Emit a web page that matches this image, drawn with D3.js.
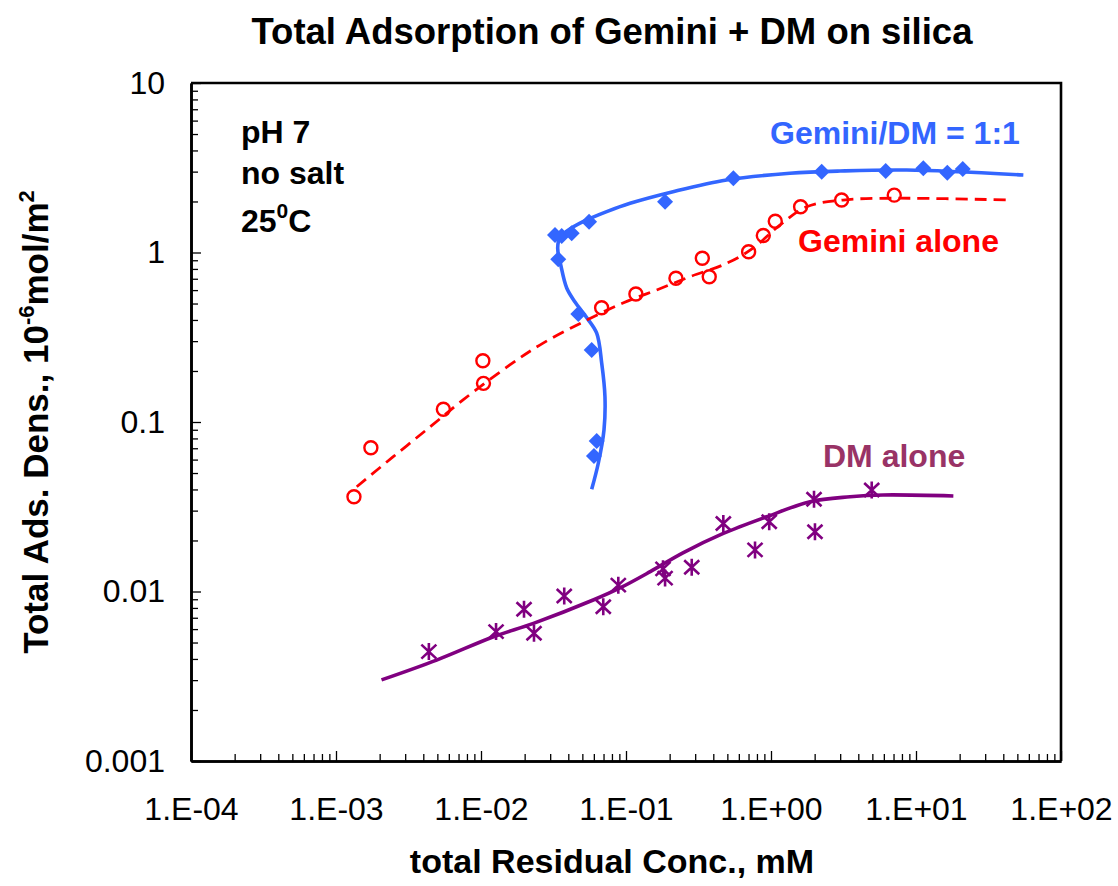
<!DOCTYPE html>
<html>
<head>
<meta charset="utf-8">
<script src="https://cdn.jsdelivr.net/npm/d3@7"></script>
<style>
  html, body { margin: 0; padding: 0; background: #fff; }
  svg { display: block; font-family: Arial, "Liberation Sans", sans-serif; }
</style>
</head>
<body>
<svg id="chart" width="1118" height="886"></svg>
<script>
// ---- data: residual concentration (mM) vs adsorption density (1e-6 mol/m2) ----
const geminiDmX = [0.0324, 0.0360, 0.0422, 0.0556, 0.0341, 0.0469, 0.058, 0.0628, 0.0601, 0.186, 0.550, 2.237, 6.18, 11.23, 16.44, 21.0];
const geminiDmY = [1.27, 1.25, 1.30, 1.52, 0.912, 0.434, 0.266, 0.0773, 0.063, 1.995, 2.74, 2.996, 3.025, 3.14, 2.955, 3.11];

const geminiX = [0.00133, 0.00174, 0.0055, 0.0104, 0.0103, 0.0679, 0.117, 0.221, 0.375, 0.336, 0.701, 0.885, 1.07, 1.6, 3.07, 7.08];
const geminiY = [0.0362, 0.0705, 0.119, 0.169, 0.230, 0.472, 0.569, 0.705, 0.72, 0.924, 1.01, 1.26, 1.53, 1.86, 2.04, 2.18];

const dmX = [0.00437, 0.0127, 0.0198, 0.0232, 0.0375, 0.0697, 0.0885, 0.180, 0.186, 0.284, 0.469, 0.776, 0.972, 1.98, 2.01, 4.95];
const dmY = [0.00442, 0.0058, 0.00785, 0.00567, 0.0094, 0.00813, 0.0109, 0.0136, 0.012, 0.0139, 0.0252, 0.0176, 0.0258, 0.035, 0.0225, 0.0397];

// fitted trend curves
const geminiDmFitX = [0.058, 0.0644, 0.0705, 0.0716, 0.068, 0.0628, 0.0538, 0.0445, 0.039, 0.0356, 0.0338, 0.0351, 0.0392, 0.0505, 0.0736, 0.1067, 0.211, 0.494, 1.35, 2.99, 8.63, 55];
const geminiDmFitY = [0.0401, 0.0571, 0.0897, 0.141, 0.222, 0.334, 0.411, 0.510, 0.617, 0.833, 1.063, 1.234, 1.339, 1.519, 1.741, 1.951, 2.284, 2.678, 2.933, 3.025, 3.067, 2.866];

const geminiFitX = [0.00139, 0.00247, 0.00445, 0.00752, 0.0158, 0.0268, 0.0505, 0.0953, 0.163, 0.276, 0.494, 0.752, 1.15, 1.76, 3.14, 7.0, 43.1];
const geminiFitY = [0.0415, 0.0622, 0.0935, 0.135, 0.217, 0.292, 0.389, 0.504, 0.601, 0.72, 0.863, 1.06, 1.45, 1.86, 2.04, 2.09, 2.04];

const dmFitX = [0.00206, 0.00494, 0.0122, 0.023, 0.0594, 0.091, 0.147, 0.247, 0.469, 0.933, 1.86, 3.51, 5.92, 18.1];
const dmFitY = [0.00301, 0.00394, 0.00541, 0.00649, 0.00891, 0.0105, 0.0131, 0.0169, 0.022, 0.0276, 0.0339, 0.0362, 0.0371, 0.0366];

// axis ticks
const xTickValues = [1e-4, 1e-3, 1e-2, 1e-1, 1, 10, 100];
const xTickLabels = ["1.E-04", "1.E-03", "1.E-02", "1.E-01", "1.E+00", "1.E+01", "1.E+02"];
const yTickValues = [0.001, 0.01, 0.1, 1, 10];
const yTickLabels = ["0.001", "0.01", "0.1", "1", "10"];

// ---- layout ----
const margin = { left: 191, top: 83, right: 57, bottom: 125 };
const W = 1118, H = 886;
const innerW = W - margin.left - margin.right;
const innerH = H - margin.top - margin.bottom;

const BLUE = "#3366ff", RED = "#ff0000", PURPLE = "#800080", DMTEXT = "#993366";

const svg = d3.select("#chart");
const g = svg.append("g").attr("transform", `translate(${margin.left},${margin.top})`);

const x = d3.scaleLog().domain([1e-4, 100]).range([0, innerW]);
const y = d3.scaleLog().domain([0.001, 10]).range([innerH, 0]);

// minor tick positions: 2..9 within each decade
function minorTicks(lo, hi) {
  const out = [];
  for (let e = Math.log10(lo); e < Math.log10(hi); e++) {
    for (let k = 2; k <= 9; k++) out.push(k * Math.pow(10, e));
  }
  return out;
}

// ---- axes ----
const xMinor = g.append("g").attr("transform", `translate(0,${innerH})`)
  .call(d3.axisBottom(x).tickValues(minorTicks(1e-4, 100)).tickSizeInner(-7).tickSizeOuter(0).tickFormat(""));
const xMajor = g.append("g").attr("transform", `translate(0,${innerH})`)
  .call(d3.axisBottom(x).tickValues(xTickValues).tickSizeInner(-10).tickSizeOuter(0).tickPadding(36)
    .tickFormat((d, i) => xTickLabels[i]));

const yMinor = g.append("g")
  .call(d3.axisLeft(y).tickValues(minorTicks(0.001, 10)).tickSizeInner(-7).tickSizeOuter(0).tickFormat(""));
const yMajor = g.append("g")
  .call(d3.axisLeft(y).tickValues(yTickValues).tickSizeInner(-10).tickSizeOuter(0).tickPadding(26)
    .tickFormat((d, i) => yTickLabels[i]));

[xMinor, xMajor, yMinor, yMajor].forEach(a => {
  a.select(".domain").attr("stroke", "#000").attr("stroke-width", 2.6);
  a.selectAll(".tick line").attr("stroke", "#000").attr("stroke-width", 1.3);
  a.selectAll(".tick text").attr("fill", "#000").style("font-size", "32px")
    .style("font-family", 'Arial, "Liberation Sans", sans-serif');
});

// frame: top and right edges
g.append("path")
  .attr("d", `M0,0H${innerW}V${innerH}`)
  .attr("fill", "none").attr("stroke", "#000").attr("stroke-width", 2.6);

// ---- curves ----
const line = d3.line().x(d => x(d[0])).y(d => y(d[1])).curve(d3.curveCatmullRom.alpha(0.5));
const zip = (a, b) => a.map((v, i) => [v, b[i]]);

g.append("path").datum(zip(geminiDmFitX, geminiDmFitY))
  .attr("d", line).attr("fill", "none").attr("stroke", BLUE).attr("stroke-width", 3.6);

g.append("path").datum(zip(dmFitX, dmFitY))
  .attr("d", line).attr("fill", "none").attr("stroke", PURPLE).attr("stroke-width", 3.6);

g.append("path").datum(zip(geminiFitX, geminiFitY))
  .attr("d", line).attr("fill", "none").attr("stroke", RED).attr("stroke-width", 2.8)
  .attr("stroke-dasharray", "12,7");

// ---- markers ----
const diamond = s => `M0,${-s}L${s},0L0,${s}L${-s},0Z`;
g.selectAll(".gdm").data(zip(geminiDmX, geminiDmY)).join("path")
  .attr("class", "gdm")
  .attr("transform", d => `translate(${x(d[0])},${y(d[1])})`)
  .attr("d", diamond(8)).attr("fill", BLUE);

g.selectAll(".gem").data(zip(geminiX, geminiY)).join("circle")
  .attr("class", "gem")
  .attr("cx", d => x(d[0])).attr("cy", d => y(d[1])).attr("r", 6.5)
  .attr("fill", "none").attr("stroke", RED).attr("stroke-width", 2.4);

const asterisk = "M-7.5,-7L7.5,7M-7.5,7L7.5,-7M0,-8.5L0,8.5";
g.selectAll(".dm").data(zip(dmX, dmY)).join("path")
  .attr("class", "dm")
  .attr("transform", d => `translate(${x(d[0])},${y(d[1])})`)
  .attr("d", asterisk).attr("fill", "none").attr("stroke", PURPLE).attr("stroke-width", 2.6);

// ---- text ----
const bold = sel => sel.attr("font-weight", "bold");

bold(svg.append("text")).attr("x", 612).attr("y", 44).attr("text-anchor", "middle")
  .attr("font-size", 36.5).attr("fill", "#000").text("Total Adsorption of Gemini + DM on silica");

bold(svg.append("text")).attr("x", 612).attr("y", 873).attr("text-anchor", "middle")
  .attr("font-size", 34).attr("fill", "#000").text("total Residual Conc., mM");

const yl = bold(svg.append("text")).attr("transform", `translate(48,${margin.top + innerH / 2}) rotate(-90)`)
  .attr("text-anchor", "middle").attr("font-size", 35).attr("fill", "#000");
yl.append("tspan").text("Total Ads. Dens., 10");
yl.append("tspan").attr("dy", -14).attr("font-size", 22).text("-6");
yl.append("tspan").attr("dy", 14).text("mol/m");
yl.append("tspan").attr("dy", -14).attr("font-size", 22).text("2");

// conditions
const cond = bold(svg.append("text")).attr("font-size", 32).attr("fill", "#000");
cond.append("tspan").attr("x", 241).attr("y", 143).text("pH 7");
cond.append("tspan").attr("x", 241).attr("y", 184).text("no salt");
cond.append("tspan").attr("x", 241).attr("y", 232).text("25");
cond.append("tspan").attr("dy", -14).attr("font-size", 21).text("0");
cond.append("tspan").attr("dy", 14).text("C");

// series labels
bold(svg.append("text")).attr("x", 770).attr("y", 144).attr("font-size", 32).attr("fill", BLUE).text("Gemini/DM = 1:1");
bold(svg.append("text")).attr("x", 798).attr("y", 252).attr("font-size", 32).attr("fill", RED).text("Gemini alone");
bold(svg.append("text")).attr("x", 823).attr("y", 467).attr("font-size", 32).attr("fill", DMTEXT).text("DM alone");
</script>
</body>
</html>
